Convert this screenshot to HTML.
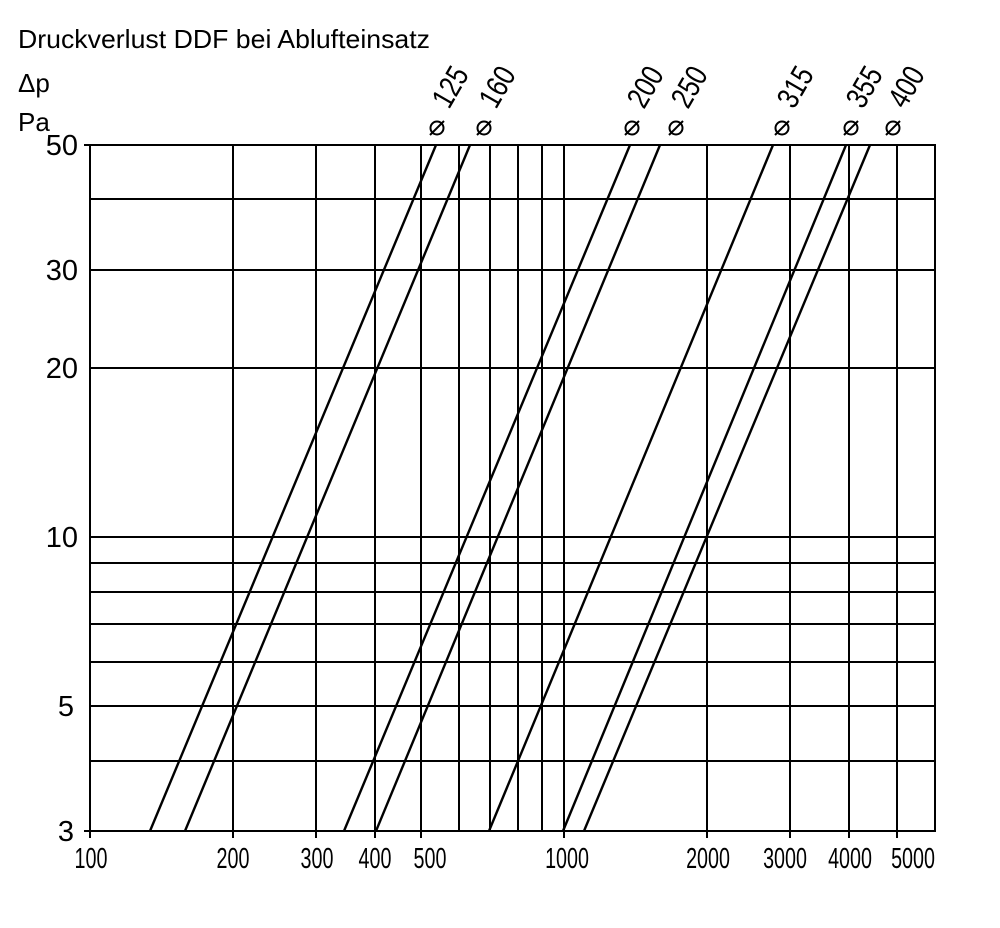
<!DOCTYPE html>
<html><head><meta charset="utf-8"><style>
html,body{margin:0;padding:0;background:#fff;}
svg{display:block;}
text{font-family:"Liberation Sans",sans-serif;fill:#000;}
</style></head><body>
<svg width="1000" height="928" viewBox="0 0 1000 928" xmlns="http://www.w3.org/2000/svg">
<text x="18" y="48" font-size="26" textLength="412" lengthAdjust="spacingAndGlyphs">Druckverlust DDF bei Ablufteinsatz</text>
<text x="18" y="92" font-size="26">Δp</text>
<text x="18" y="131" font-size="26">Pa</text>
<g stroke="#000" stroke-width="2" fill="none">
<rect x="90" y="145" width="845" height="686"/>
<line x1="233" y1="145" x2="233" y2="838"/>
<line x1="316" y1="145" x2="316" y2="838"/>
<line x1="375" y1="145" x2="375" y2="838"/>
<line x1="421" y1="145" x2="421" y2="838"/>
<line x1="459" y1="145" x2="459" y2="831"/>
<line x1="490" y1="145" x2="490" y2="831"/>
<line x1="518" y1="145" x2="518" y2="831"/>
<line x1="542" y1="145" x2="542" y2="831"/>
<line x1="564" y1="145" x2="564" y2="838"/>
<line x1="707" y1="145" x2="707" y2="838"/>
<line x1="790" y1="145" x2="790" y2="838"/>
<line x1="849" y1="145" x2="849" y2="838"/>
<line x1="897" y1="145" x2="897" y2="838"/>
<line x1="90" y1="199" x2="935" y2="199"/>
<line x1="90" y1="270" x2="935" y2="270"/>
<line x1="90" y1="368" x2="935" y2="368"/>
<line x1="90" y1="537" x2="935" y2="537"/>
<line x1="90" y1="563" x2="935" y2="563"/>
<line x1="90" y1="592" x2="935" y2="592"/>
<line x1="90" y1="624" x2="935" y2="624"/>
<line x1="90" y1="662" x2="935" y2="662"/>
<line x1="90" y1="706" x2="935" y2="706"/>
<line x1="90" y1="761" x2="935" y2="761"/>
<line x1="90" y1="831" x2="90" y2="838"/>
<line x1="84" y1="145" x2="90" y2="145"/>
<line x1="84" y1="831" x2="90" y2="831"/>
</g>
<g stroke="#000" stroke-width="2.4" fill="none">
<line x1="150" y1="831" x2="436" y2="145"/>
<line x1="185" y1="831" x2="470" y2="145"/>
<line x1="344" y1="831" x2="630" y2="145"/>
<line x1="376" y1="831" x2="660" y2="145"/>
<line x1="489" y1="831" x2="773" y2="145"/>
<line x1="563" y1="831" x2="846" y2="145"/>
<line x1="584" y1="831" x2="870" y2="145"/>
</g>
<g font-size="29" text-anchor="end">
<text x="78" y="155">50</text>
<text x="78" y="280">30</text>
<text x="78" y="378">20</text>
<text x="78" y="547">10</text>
<text x="74" y="716">5</text>
<text x="74" y="841">3</text>
</g>
<g font-size="29" text-anchor="middle">
<text transform="translate(91,868) scale(0.68,1)">100</text>
<text transform="translate(233,868) scale(0.68,1)">200</text>
<text transform="translate(317,868) scale(0.68,1)">300</text>
<text transform="translate(375,868) scale(0.68,1)">400</text>
<text transform="translate(430,868) scale(0.68,1)">500</text>
<text transform="translate(567,868) scale(0.68,1)">1000</text>
<text transform="translate(708,868) scale(0.68,1)">2000</text>
<text transform="translate(785,868) scale(0.68,1)">3000</text>
<text transform="translate(850,868) scale(0.68,1)">4000</text>
<text transform="translate(913,868) scale(0.68,1)">5000</text>
</g>
<g font-size="31">
<g transform="translate(437,128)"><circle r="6.5" fill="none" stroke="#000" stroke-width="2"/><line x1="-7" y1="7" x2="7" y2="-7" stroke="#000" stroke-width="2"/></g>
<text transform="translate(449,110) rotate(-60) scale(0.8,1)">125</text>
<g transform="translate(484,128)"><circle r="6.5" fill="none" stroke="#000" stroke-width="2"/><line x1="-7" y1="7" x2="7" y2="-7" stroke="#000" stroke-width="2"/></g>
<text transform="translate(496,110) rotate(-60) scale(0.8,1)">160</text>
<g transform="translate(632,128)"><circle r="6.5" fill="none" stroke="#000" stroke-width="2"/><line x1="-7" y1="7" x2="7" y2="-7" stroke="#000" stroke-width="2"/></g>
<text transform="translate(644,110) rotate(-60) scale(0.8,1)">200</text>
<g transform="translate(676,128)"><circle r="6.5" fill="none" stroke="#000" stroke-width="2"/><line x1="-7" y1="7" x2="7" y2="-7" stroke="#000" stroke-width="2"/></g>
<text transform="translate(688,110) rotate(-60) scale(0.8,1)">250</text>
<g transform="translate(782,128)"><circle r="6.5" fill="none" stroke="#000" stroke-width="2"/><line x1="-7" y1="7" x2="7" y2="-7" stroke="#000" stroke-width="2"/></g>
<text transform="translate(794,110) rotate(-60) scale(0.8,1)">315</text>
<g transform="translate(851,128)"><circle r="6.5" fill="none" stroke="#000" stroke-width="2"/><line x1="-7" y1="7" x2="7" y2="-7" stroke="#000" stroke-width="2"/></g>
<text transform="translate(863,110) rotate(-60) scale(0.8,1)">355</text>
<g transform="translate(893,128)"><circle r="6.5" fill="none" stroke="#000" stroke-width="2"/><line x1="-7" y1="7" x2="7" y2="-7" stroke="#000" stroke-width="2"/></g>
<text transform="translate(905,110) rotate(-60) scale(0.8,1)">400</text>
</g>
</svg>
</body></html>
